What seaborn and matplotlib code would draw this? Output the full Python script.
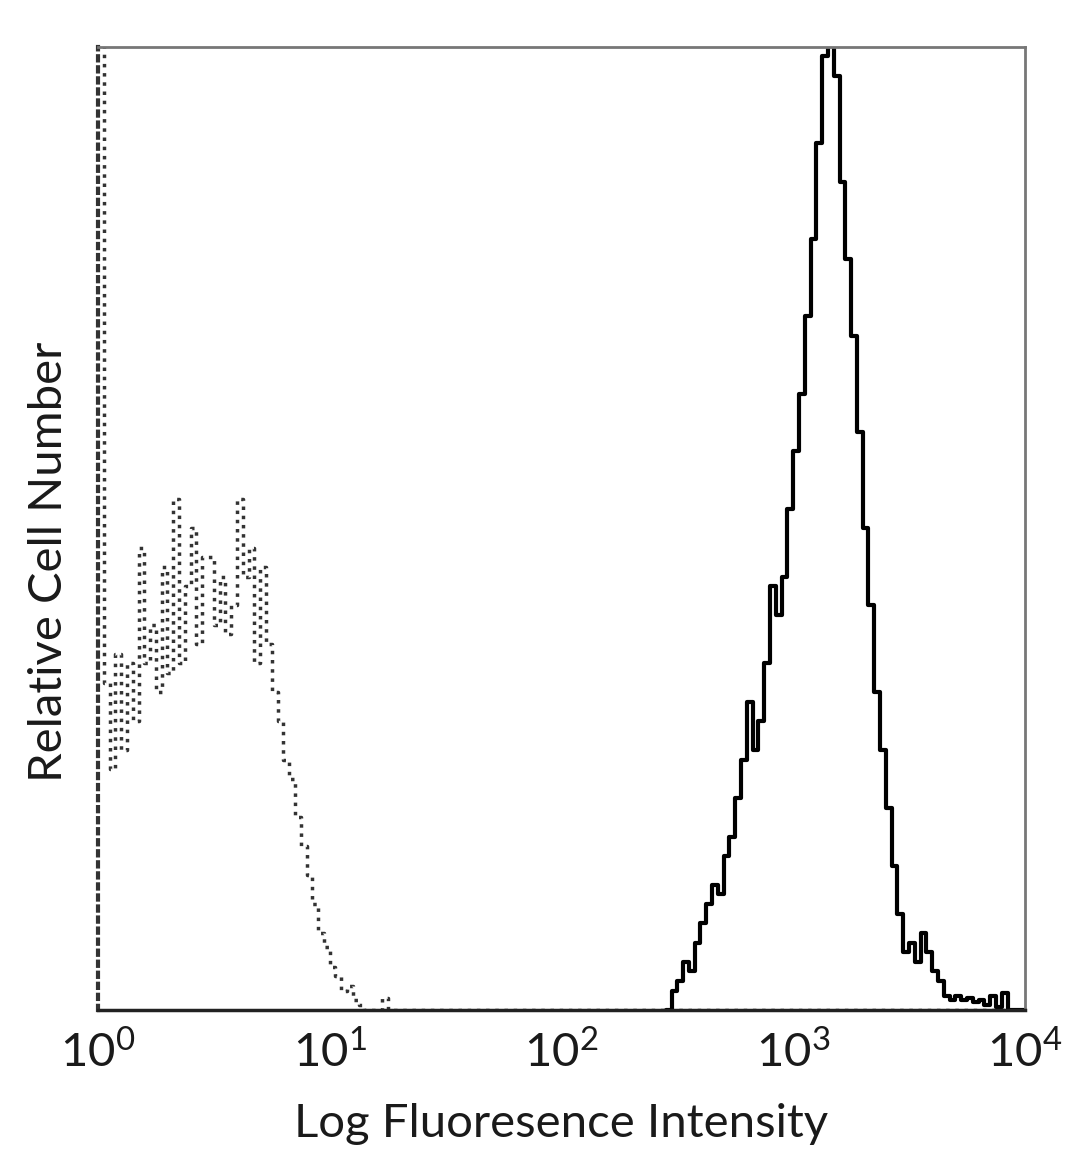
import numpy as np
import pandas as pd
import matplotlib
matplotlib.use('Agg')
import matplotlib.pyplot as plt
import seaborn as sns

# channel width in decades (log10 units)
bin_width = 0.025

# isotype control (dotted), channels starting at 10^0
control_start = 0.0
control_counts = [3.0, 0.34, 0.25, 0.37, 0.27, 0.36, 0.30, 0.48, 0.36, 0.40,
                  0.33, 0.46, 0.35, 0.53, 0.36, 0.44, 0.50, 0.38, 0.47, 0.47,
                  0.40, 0.45, 0.39, 0.42, 0.53, 0.45, 0.48, 0.36, 0.46, 0.38,
                  0.33, 0.30, 0.26, 0.24, 0.20, 0.17, 0.14, 0.11, 0.08, 0.065,
                  0.045, 0.035, 0.02, 0.025, 0.01, 0.005, 0.0, 0.0, 0.0, 0.012,
                  0.0]

# stained sample (solid), channels starting at 10^2.45
stained_start = 2.45
stained_counts = [0.0, 0.02, 0.03, 0.05, 0.04, 0.07, 0.09, 0.11, 0.13, 0.12,
                  0.16, 0.18, 0.22, 0.26, 0.32, 0.27, 0.30, 0.36, 0.44, 0.41,
                  0.45, 0.52, 0.58, 0.64, 0.72, 0.80, 0.90, 0.99, 1.02, 0.97,
                  0.86, 0.78, 0.70, 0.60, 0.50, 0.42, 0.33, 0.27, 0.21, 0.15,
                  0.10, 0.06, 0.07, 0.05, 0.08, 0.06, 0.04, 0.03, 0.015, 0.01,
                  0.015, 0.01, 0.012, 0.008, 0.01, 0.005, 0.015, 0.003, 0.018, 0.0]

xticks = [1, 10, 100, 1000, 10000]


def channels(start, counts):
    log_centers = start + bin_width * (np.arange(len(counts)) + 0.5)
    return pd.DataFrame({'x': 10 ** log_centers, 'count': counts})


df_control = channels(control_start, control_counts)
df_stained = channels(stained_start, stained_counts)

sns.set_theme(style='white')
plt.rcParams['font.family'] = ['Lato', 'DejaVu Sans']
plt.rcParams['text.color'] = '#1a1a1a'
plt.rcParams['axes.labelcolor'] = '#1a1a1a'
plt.rcParams['xtick.color'] = '#1a1a1a'

fig = plt.figure(figsize=(10.8, 11.69), dpi=100)
ax = fig.add_axes([0.0907, 0.136, 0.8583, 0.824])

sns.histplot(data=df_control, x='x', weights='count', binwidth=bin_width, binrange=(0, 4),
             log_scale=True, element='step', fill=False, color='#333333',
             linestyle=':', linewidth=2.5, ax=ax)
sns.histplot(data=df_stained, x='x', weights='count', binwidth=bin_width, binrange=(2.45, 4),
             log_scale=True, element='step', fill=False, color='black',
             linewidth=3, ax=ax)

ax.set_xlim(1, 10000)
ax.set_ylim(0, 1.0)
ax.set_xticks(xticks)
ax.set_yticks([])
ax.minorticks_off()
ax.tick_params(axis='x', length=0, labelsize=34, pad=14)
ax.set_xlabel('Log Fluoresence Intensity', fontsize=34, labelpad=20)
ax.set_ylabel('Relative Cell Number', fontsize=34)
ax.yaxis.set_label_coords(-0.03, 0.465)

for side in ['top', 'right']:
    ax.spines[side].set_color('#777777')
    ax.spines[side].set_linewidth(2)
ax.spines['bottom'].set_color('#222222')
ax.spines['bottom'].set_linewidth(2.5)
ax.spines['left'].set_color('#333333')
ax.spines['left'].set_linewidth(3)
ax.spines['left'].set_linestyle(':')

plt.savefig('out.png', dpi=100)
